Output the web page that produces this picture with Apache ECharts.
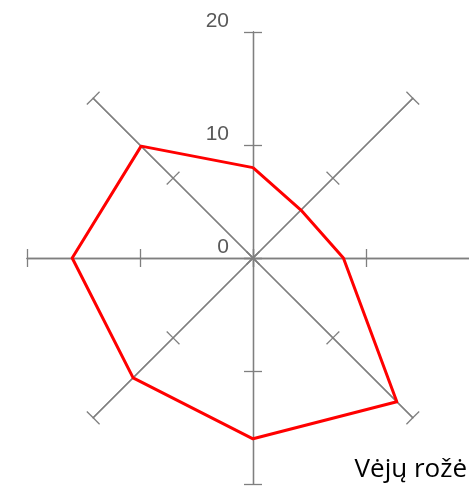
<!DOCTYPE html>
<html>
<head>
<meta charset="utf-8">
<script src="https://cdn.jsdelivr.net/npm/echarts@6/dist/echarts.min.js"></script>
<style>
  html, body { margin: 0; padding: 0; background: #fff; }
  #chart { width: 469px; height: 488px; }
</style>
</head>
<body>
<div id="chart"></div>
<script>
  // krypčių eilė: ECharts radaras eina prieš laikrodžio rodyklę nuo viršaus
  var directions = ['Š', 'ŠV', 'V', 'PV', 'P', 'PR', 'R', 'ŠR'];
  var windValues = [8, 14, 16, 15, 16, 18, 8, 6];
  var axisMax = 20;
  var axisTicks = [0, 10, 20];

  var chart = echarts.init(document.getElementById('chart'));

  function makeRadar(tickLen, withLabels) {
    var indicators = directions.map(function (d, i) {
      var ind = { name: d, min: 0, max: axisMax };
      if (withLabels && i === 0) {
        // skalės skaičiai tik ant šiaurės ašies
        ind.axisLabel = {
          show: true,
          margin: 24,
          fontSize: 21,
          color: '#595959',
          fontFamily: 'Liberation Sans, Arial, sans-serif',
          verticalAlign: 'bottom',
          formatter: function (v) { return axisTicks.indexOf(v) >= 0 ? String(v) : ''; }
        };
      }
      return ind;
    });
    return {
      center: [253, 258],
      radius: 226,
      startAngle: 90,
      splitNumber: axisTicks.length - 1,
      shape: 'polygon',
      indicator: indicators,
      axisName: { show: false },
      splitLine: { show: false },
      splitArea: { show: false },
      axisLine: { lineStyle: { color: '#7f7f7f', width: 1.3 } },
      axisTick: { show: true, length: tickLen, lineStyle: { color: '#7f7f7f', width: 1.3 } },
      axisLabel: { show: false }
    };
  }

  // du radarai: brūkšneliai į abi ašies puses
  chart.setOption({
    animation: false,
    title: {
      text: 'Vėjų rožė',
      right: 2,
      bottom: 5,
      padding: 0,
      textStyle: { fontSize: 26, fontWeight: 'normal', color: '#000', fontFamily: 'Open Sans, sans-serif' }
    },
    radar: [makeRadar(9, true), makeRadar(-9, false)],
    series: [{
      name: 'Vėjų rožė',
      type: 'radar',
      radarIndex: 0,
      symbol: 'none',
      lineStyle: { color: '#ff0000', width: 3 },
      data: [{ value: windValues, name: 'Vėjų rožė' }]
    }]
  });
</script>
</body>
</html>
